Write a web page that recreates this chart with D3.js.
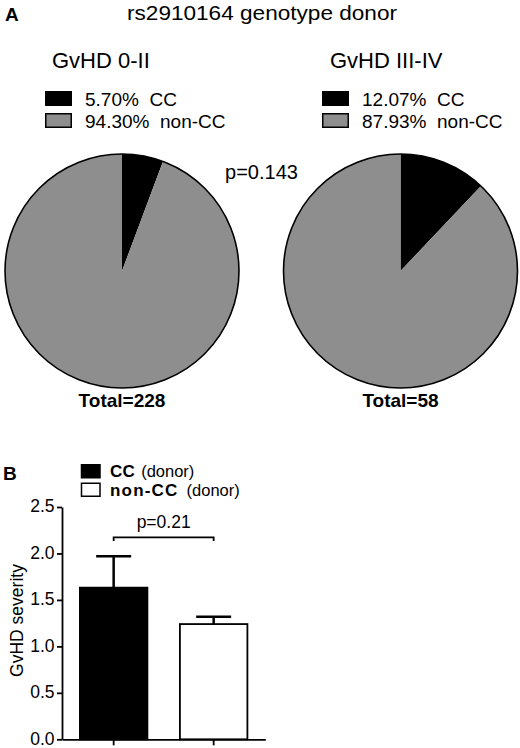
<!DOCTYPE html>
<html><head><meta charset="utf-8">
<script src="https://cdn.jsdelivr.net/npm/d3@7"></script>
<style>
html,body{margin:0;padding:0;background:#fff;}
svg{display:block;font-family:"Liberation Sans",Arial,Helvetica,sans-serif;}
</style></head>
<body>
<svg id="chart" width="520" height="748"></svg>
<script>
// ---- data ----
const pieGroups = ["GvHD 0-II", "GvHD III-IV"];
const genotypes = ["CC", "non-CC"];
const ccPct = [5.70, 12.07];
const nonCcPct = [94.30, 87.93];
const totals = [228, 58];
const pieP = "p=0.143";
const barCategories = ["CC", "non-CC"];
const barMeans = [1.632, 1.240];
const barSem = [0.339, 0.078];
const yTicks = [0, 0.5, 1.0, 1.5, 2.0, 2.5];
const barP = "p=0.21";

const GRAY = "#8e8e8e";
const svg = d3.select("#chart");

// ---- Panel A ----
svg.append("text").attr("x", 5).attr("y", 21).attr("font-size", 19).attr("font-weight", "bold").text("A");
svg.append("text").attr("x", 262).attr("y", 20).attr("text-anchor", "middle").attr("font-size", 20.5)
  .attr("textLength", 270).attr("lengthAdjust", "spacingAndGlyphs")
  .text("rs2910164 genotype donor");

const pieCx = d3.scaleOrdinal().domain(pieGroups).range([122, 400.5]);
const pieCy = 271, pieR = 117;
const headerX = d3.scaleOrdinal().domain(pieGroups).range([52, 330]);
const legX = d3.scaleOrdinal().domain(pieGroups).range([45, 322]);
const colour = d3.scaleOrdinal().domain(genotypes).range(["#000", GRAY]);
const pie = d3.pie().sort(null).value(d => d.v);
const arc = d3.arc().innerRadius(0).outerRadius(pieR);

pieGroups.forEach((grp, i) => {
  const data = [{k: genotypes[0], v: ccPct[i]}, {k: genotypes[1], v: nonCcPct[i]}];
  svg.append("text").attr("x", headerX(grp)).attr("y", 68).attr("font-size", 22).text(grp);
  const lg = svg.append("g");
  data.forEach((d, j) => {
    const y0 = 91 + j * 22;
    lg.append("rect").attr("x", legX(grp) + 0.75).attr("y", y0 + 0.75).attr("width", 25.5).attr("height", 13.5)
      .attr("fill", colour(d.k)).attr("stroke", "#000").attr("stroke-width", 1.5);
    lg.append("text").attr("x", legX(grp) + 40).attr("y", y0 + 14.5).attr("font-size", 19)
      .attr("xml:space", "preserve").style("white-space", "pre")
      .text(d.v.toFixed(2) + "%  " + d.k);
  });
  const g = svg.append("g").attr("transform", `translate(${pieCx(grp)},${pieCy})`);
  g.selectAll("path").data(pie(data)).join("path")
    .attr("d", arc).attr("fill", d => colour(d.data.k));
  g.append("circle").attr("r", pieR).attr("fill", "none").attr("stroke", "#000").attr("stroke-width", 1.6);
  svg.append("text").attr("x", pieCx(grp)).attr("y", 407).attr("text-anchor", "middle")
    .attr("font-size", 19).attr("font-weight", "bold").text("Total=" + totals[i]);
});
svg.append("text").attr("x", 261.5).attr("y", 179).attr("text-anchor", "middle").attr("font-size", 20).text(pieP);

// ---- Panel B ----
svg.append("text").attr("x", 3).attr("y", 480).attr("font-size", 19).attr("font-weight", "bold").text("B");

const x = d3.scaleBand().domain(barCategories).range([62, 265.3]).paddingInner(0.325).paddingOuter(0.179);
const y = d3.scaleLinear().domain([0, 2.5]).range([739.3, 507]);
const barFill = d3.scaleOrdinal().domain(barCategories).range(["#000", "#fff"]);

// legend
const bl = svg.append("g");
barCategories.forEach((c, j) => {
  const y0 = 464 + j * 18.5;
  bl.append("rect").attr("x", 81.5).attr("y", y0 + 0.75).attr("width", 18.5).attr("height", 13)
    .attr("fill", barFill(c)).attr("stroke", "#000").attr("stroke-width", 1.5);
  const t = bl.append("text").attr("x", 110).attr("y", y0 + 13.2).attr("font-size", 17);
  t.append("tspan").attr("font-weight", "bold").attr("letter-spacing", j ? 1.2 : 0.3).text(c);
  t.append("tspan").attr("dx", j ? 8 : 6).attr("font-size", 16.5).text("(donor)");
});

// bars
const bars = svg.append("g");
barCategories.forEach((c, i) => {
  const cx = x(c) + x.bandwidth() / 2;
  bars.append("line").attr("x1", cx).attr("x2", cx).attr("y1", y(barMeans[i])).attr("y2", y(barMeans[i] + barSem[i]))
    .attr("stroke", "#000").attr("stroke-width", 2.5);
  bars.append("line").attr("x1", cx - 17.5).attr("x2", cx + 17.5)
    .attr("y1", y(barMeans[i] + barSem[i])).attr("y2", y(barMeans[i] + barSem[i]))
    .attr("stroke", "#000").attr("stroke-width", 2.5);
  bars.append("rect").attr("x", x(c)).attr("y", y(barMeans[i])).attr("width", x.bandwidth())
    .attr("height", y(0) - y(barMeans[i])).attr("fill", barFill(c)).attr("stroke", "#000").attr("stroke-width", 1.8);
});

// axes
const yAxis = svg.append("g").attr("transform", "translate(62,0)")
  .call(d3.axisLeft(y).tickValues(yTicks).tickFormat(d3.format(".1f")).tickSize(5).tickPadding(2.5).tickSizeOuter(0));
yAxis.selectAll("text").attr("font-size", 17.5).attr("dy", "0.27em")
  .attr("font-family", "Liberation Sans, Arial, sans-serif").attr("fill", "#000");
yAxis.selectAll("line,path").attr("stroke", "#000").attr("stroke-width", 1.8);

const xAxis = svg.append("g").attr("transform", `translate(0,${y(0)})`)
  .call(d3.axisBottom(x).tickSize(6).tickSizeOuter(0).tickFormat(""));
xAxis.selectAll("line,path").attr("stroke", "#000").attr("stroke-width", 1.8);

svg.append("text").attr("transform", `translate(23,${620.5}) rotate(-90)`).attr("text-anchor", "middle")
  .attr("font-size", 17.5).text("GvHD severity");

// significance bracket
const bx1 = x(barCategories[0]) + x.bandwidth() / 2, bx2 = x(barCategories[1]) + x.bandwidth() / 2;
svg.append("path").attr("d", `M${bx1},541V537.3H${bx2}V541`).attr("fill", "none").attr("stroke", "#000").attr("stroke-width", 1.8);
svg.append("text").attr("x", (bx1 + bx2) / 2).attr("y", 527.5).attr("text-anchor", "middle").attr("font-size", 17.5).text(barP);
</script>
</body></html>
